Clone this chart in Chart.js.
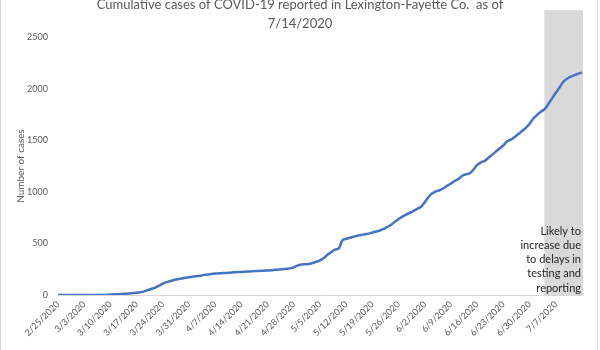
<!DOCTYPE html>
<html>
<head>
<meta charset="utf-8">
<title>Cumulative cases of COVID-19 - Lexington-Fayette Co.</title>
<script src="https://cdn.jsdelivr.net/npm/chart.js@4"></script>
<style>
  html, body { margin: 0; padding: 0; background: #fff; }
  #wrap { position: relative; width: 600px; height: 350px; }
</style>
</head>
<body>
<div id="wrap"><canvas id="casesChart" width="600" height="350"></canvas></div>
<script>
// Data
const startDate = "2/25/2020";
const dayCount = 141; // 2/25/2020 .. 7/14/2020

const tickLabels = [
    "2/25/2020", "3/3/2020", "3/10/2020", "3/17/2020", "3/24/2020", "3/31/2020",
    "4/7/2020", "4/14/2020", "4/21/2020", "4/28/2020", "5/5/2020", "5/12/2020",
    "5/19/2020", "5/26/2020", "6/2/2020", "6/9/2020", "6/16/2020", "6/23/2020",
    "6/30/2020", "7/7/2020"
];

const cumulativeCases = [
    0, 0, 0, 0, 0, 0, 0, 0, 0, 0,
    0, 0, 1, 1, 4, 6, 7, 10, 12, 15,
    19, 22, 27, 35, 48, 60, 72, 90, 110, 125,
    135, 145, 152, 160, 168, 172, 178, 182, 186, 195,
    198, 204, 208, 210, 212, 214, 216, 220, 222, 224,
    226, 228, 230, 233, 234, 236, 238, 240, 244, 246,
    250, 254, 258, 268, 285, 295, 298, 300, 310, 322,
    335, 358, 390, 415, 440, 450, 530, 545, 555, 565,
    575, 582, 588, 595, 605, 615, 625, 640, 660, 680,
    710, 735, 760, 780, 795, 815, 835, 855, 900, 950,
    985, 1005, 1015, 1035, 1060, 1080, 1105, 1125, 1155, 1170,
    1180, 1215, 1260, 1285, 1300, 1330, 1360, 1390, 1420, 1450,
    1490, 1505, 1530, 1560, 1590, 1620, 1660, 1710, 1745, 1775,
    1800, 1850, 1905, 1960, 2010, 2065, 2095, 2115, 2130, 2145,
    2155
];

const yTicks = [0, 500, 1000, 1500, 2000, 2500];
const titleLines = ["Cumulative cases of COVID-19 reported in Lexington-Fayette Co.  as of", "7/14/2020"];
const noteLines = ["Likely to", "increase due", "to delays in", "testing and", "reporting"];
const bandFrom = "7/5/2020";
const bandTopValue = 2760;

document.addEventListener("DOMContentLoaded", () => {

    /* ==========================
       Build date categories
    ========================== */
    const dates = [];
    const d0 = new Date(startDate);
    for (let i = 0; i < dayCount; i++) {
        const d = new Date(d0.getFullYear(), d0.getMonth(), d0.getDate() + i);
        dates.push((d.getMonth() + 1) + "/" + d.getDate() + "/" + d.getFullYear());
    }

    const grey = "#595959";
    const fontFamily = "Lato, 'Liberation Sans', sans-serif";

    /* ==========================
       Shaded "delayed reporting" band + note
    ========================== */
    const bandPlugin = {
        id: "band",
        beforeDatasetsDraw(chart) {
            const { ctx, chartArea, scales } = chart;
            const x0 = scales.x.getPixelForValue(dates.indexOf(bandFrom)) - 4;
            const x1 = chartArea.right + 1;
            const top = scales.y.getPixelForValue(bandTopValue);
            ctx.save();
            ctx.fillStyle = "#d9d9d9";
            ctx.fillRect(x0, top, x1 - x0, chartArea.bottom - top);
            ctx.restore();
        },
        afterDraw(chart) {
            const { ctx, chartArea, width } = chart;
            ctx.save();
            // title
            ctx.fillStyle = grey;
            ctx.textAlign = "center";
            ctx.textBaseline = "middle";
            ctx.font = "13px " + fontFamily;
            titleLines.forEach((line, i) => ctx.fillText(line, width / 2, 5 + i * 19));
            // note
            ctx.fillStyle = "#262626";
            ctx.textAlign = "right";
            ctx.font = "11px " + fontFamily;
            noteLines.forEach((line, i) => ctx.fillText(line, chartArea.right - 1, 231 + i * 14.3));
            // chart border
            ctx.strokeStyle = "#d9d9d9";
            ctx.lineWidth = 1;
            ctx.strokeRect(0.5, -1, 597, 352);
            ctx.restore();
        }
    };

    /* ==========================
       Line Chart
    ========================== */
    new Chart(document.getElementById("casesChart"), {
        type: "line",
        data: {
            labels: dates,
            datasets: [{
                data: cumulativeCases,
                borderColor: "#4472C4",
                borderWidth: 2.5,
                pointRadius: 0,
                tension: 0.3,
                fill: false
            }]
        },
        options: {
            responsive: false,
            animation: false,
            layout: { padding: { left: 0, right: 18, top: 37, bottom: 0 } },
            plugins: {
                legend: { display: false },
                tooltip: { enabled: false }
            },
            scales: {
                x: {
                    offset: false,
                    grid: { display: false, drawTicks: false },
                    border: { display: true, color: "#d9d9d9" },
                    ticks: {
                        autoSkip: false,
                        minRotation: 45,
                        maxRotation: 45,
                        padding: 4,
                        color: grey,
                        font: { family: fontFamily, size: 9 },
                        callback: function (value) {
                            const lbl = this.getLabelForValue(value);
                            return tickLabels.includes(lbl) ? lbl : null;
                        }
                    },
                    afterFit: (scale) => { scale.height = 55; }
                },
                y: {
                    min: 0,
                    max: 2500,
                    grid: { display: false, drawTicks: false },
                    border: { display: false },
                    afterBuildTicks: (scale) => { scale.ticks = yTicks.map(v => ({ value: v })); },
                    ticks: {
                        padding: 10,
                        color: grey,
                        font: { family: fontFamily, size: 9 },
                        callback: (value) => String(value)
                    },
                    title: {
                        display: true,
                        text: "Number of cases",
                        color: grey,
                        font: { family: fontFamily, size: 10 },
                        padding: { top: 15, bottom: 0 }
                    },
                    afterFit: (scale) => { scale.width = 58; }
                }
            }
        },
        plugins: [bandPlugin]
    });

});
</script>
</body>
</html>
